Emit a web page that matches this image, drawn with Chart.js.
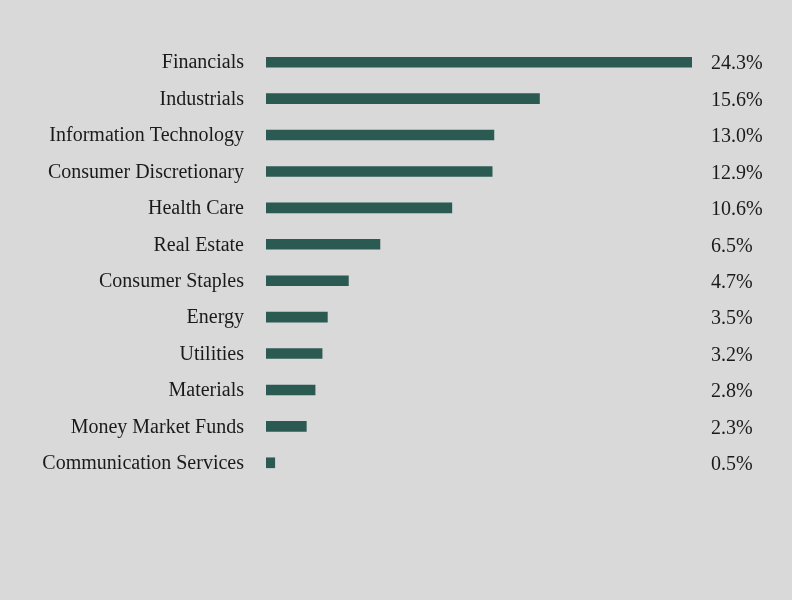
<!DOCTYPE html>
<html>
<head>
<meta charset="utf-8">
<script src="https://cdn.jsdelivr.net/npm/chart.js@4"></script>
<style>
  html, body { margin: 0; padding: 0; background: #d9d9d9; }
  #wrap { width: 792px; height: 600px; }
</style>
</head>
<body>
<div id="wrap"><canvas id="sectors"></canvas></div>
<script>
const sectors = [
  "Financials", "Industrials", "Information Technology", "Consumer Discretionary",
  "Health Care", "Real Estate", "Consumer Staples", "Energy", "Utilities",
  "Materials", "Money Market Funds", "Communication Services"
];
const weights = [24.3, 15.6, 13.0, 12.9, 10.6, 6.5, 4.7, 3.5, 3.2, 2.8, 2.3, 0.5];

const FONT = "'Liberation Serif', 'DejaVu Serif', serif";

// prints the percentage to the right of the plot area
const valueLabels = {
  id: "valueLabels",
  afterDatasetsDraw(chart) {
    const { ctx, chartArea } = chart;
    const meta = chart.getDatasetMeta(0);
    ctx.save();
    ctx.font = "20px " + FONT;
    ctx.fillStyle = "#1a1a1a";
    ctx.textAlign = "left";
    ctx.textBaseline = "middle";
    meta.data.forEach((bar, i) => {
      ctx.fillText(weights[i].toFixed(1) + "%", chartArea.right + 19, bar.y + 2);
    });
    ctx.restore();
  }
};

new Chart(document.getElementById("sectors"), {
  type: "bar",
  data: {
    labels: sectors,
    datasets: [{
      data: weights,
      backgroundColor: "#2b5a53",
      barThickness: 10
    }]
  },
  options: {
    indexAxis: "y",
    responsive: true,
    maintainAspectRatio: false,
    animation: false,
    layout: { padding: { top: 44, bottom: 119, right: 100, left: 0 } },
    plugins: { legend: { display: false }, tooltip: { enabled: false } },
    scales: {
      x: { display: false, min: 0, max: 24.3 },
      y: {
        afterFit(scale) { scale.width = 266; },
        grid: { display: false, drawTicks: false },
        border: { display: false },
        ticks: {
          padding: 22,
          labelOffset: 1,
          color: "#1a1a1a",
          font: { family: FONT, size: 20 }
        }
      }
    }
  },
  plugins: [valueLabels]
});
</script>
</body>
</html>
